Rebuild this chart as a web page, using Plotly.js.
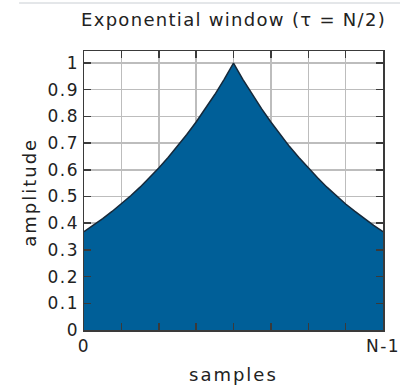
<!DOCTYPE html>
<html>
<head>
<meta charset="utf-8">
<script src="https://cdn.plot.ly/plotly-3.0.1.min.js"></script>
<style>
  html, body { margin: 0; padding: 0; background: #ffffff; }
  #chart { width: 404px; height: 386px; }
  /* the labels are set a little wider than the default face */
  #chart .gtitle { letter-spacing: 1.3px; }
  #chart .xtick text, #chart .ytick text { letter-spacing: 1.5px; }
  #chart .annotation-text { letter-spacing: 2px; }
</style>
</head>
<body>
<div id="chart"></div>
<script>
// Normalised sample position across the window (0 .. N-1 mapped to 0 .. 1)
const samplePos = [
  0, 0.03125, 0.0625, 0.09375, 0.125, 0.15625, 0.1875, 0.21875, 0.25,
  0.28125, 0.3125, 0.34375, 0.375, 0.40625, 0.4375, 0.46875, 0.5,
  0.53125, 0.5625, 0.59375, 0.625, 0.65625, 0.6875, 0.71875, 0.75,
  0.78125, 0.8125, 0.84375, 0.875, 0.90625, 0.9375, 0.96875, 1
];

// Window amplitude at each sample position
const amplitude = [
  0.368, 0.392, 0.417, 0.444, 0.472, 0.503, 0.535, 0.570, 0.607,
  0.646, 0.687, 0.732, 0.779, 0.829, 0.882, 0.939, 1.000,
  0.939, 0.882, 0.829, 0.779, 0.732, 0.687, 0.646, 0.607,
  0.570, 0.535, 0.503, 0.472, 0.444, 0.417, 0.392, 0.368
];

// Horizontal grid / tick positions and their labels
const xTickVals = [0, 0.125, 0.25, 0.375, 0.5, 0.625, 0.75, 0.875, 1];
const xTickText = ["0", "", "", "", "", "", "", "", "N-1"];
const yTickVals = [0, 0.1, 0.2, 0.3, 0.4, 0.5, 0.6, 0.7, 0.8, 0.9, 1];
const yTickText = ["0", "0.1", "0.2", "0.3", "0.4", "0.5", "0.6", "0.7", "0.8", "0.9", "1"];

const FONT = "DejaVu Sans, sans-serif";
const TEXT = "#222222";
const FRAME = "#3a3a3a";
const GRID = "#bdbdbd";

const trace = {
  x: samplePos,
  y: amplitude,
  type: "scatter",
  mode: "lines",
  fill: "tozeroy",
  fillcolor: "#005f98",
  line: { color: "#16293a", width: 1.5 },
  hoverinfo: "skip"
};

const axisCommon = {
  tickmode: "array",
  ticks: "inside",
  ticklen: 7,
  tickwidth: 1.5,
  tickcolor: FRAME,
  showline: true,
  linecolor: FRAME,
  linewidth: 1.5,
  mirror: "ticks",
  showgrid: true,
  gridcolor: GRID,
  gridwidth: 1.5,
  zeroline: false,
  tickfont: { family: FONT, size: 17, color: TEXT },
  fixedrange: true
};

const layout = {
  width: 404,
  height: 386,
  margin: { l: 84, r: 21, t: 51, b: 56 },
  paper_bgcolor: "#ffffff",
  plot_bgcolor: "#ffffff",
  showlegend: false,
  font: { family: FONT, size: 17, color: TEXT },
  title: {
    text: "Exponential window (τ = N/2)",
    font: { family: FONT, size: 18, color: TEXT },
    x: 0.578, xanchor: "center",
    y: 0.948, yanchor: "middle"
  },
  xaxis: Object.assign({}, axisCommon, {
    range: [0, 1],
    tickvals: xTickVals,
    ticktext: xTickText
  }),
  yaxis: Object.assign({}, axisCommon, {
    range: [0, 1.045],
    tickvals: yTickVals,
    ticktext: yTickText
  }),
  // axis labels
  annotations: [
    {
      text: "samples", xref: "paper", yref: "paper",
      x: 0.5, y: -0.161, xanchor: "center", yanchor: "middle",
      showarrow: false, font: { family: FONT, size: 18, color: TEXT }
    },
    {
      text: "amplitude", xref: "paper", yref: "paper",
      x: -0.181, y: 0.495, xanchor: "center", yanchor: "middle",
      textangle: -90,
      showarrow: false, font: { family: FONT, size: 18, color: TEXT }
    }
  ],
  shapes: [
    {
      type: "line", xref: "paper", yref: "paper",
      x0: -0.217, x1: 1.057, y0: 1.172, y1: 1.172,
      line: { color: "#c9ced3", width: 1 }
    }
  ]
};

Plotly.newPlot("chart", [trace], layout, { staticPlot: true, displayModeBar: false });
</script>
</body>
</html>
